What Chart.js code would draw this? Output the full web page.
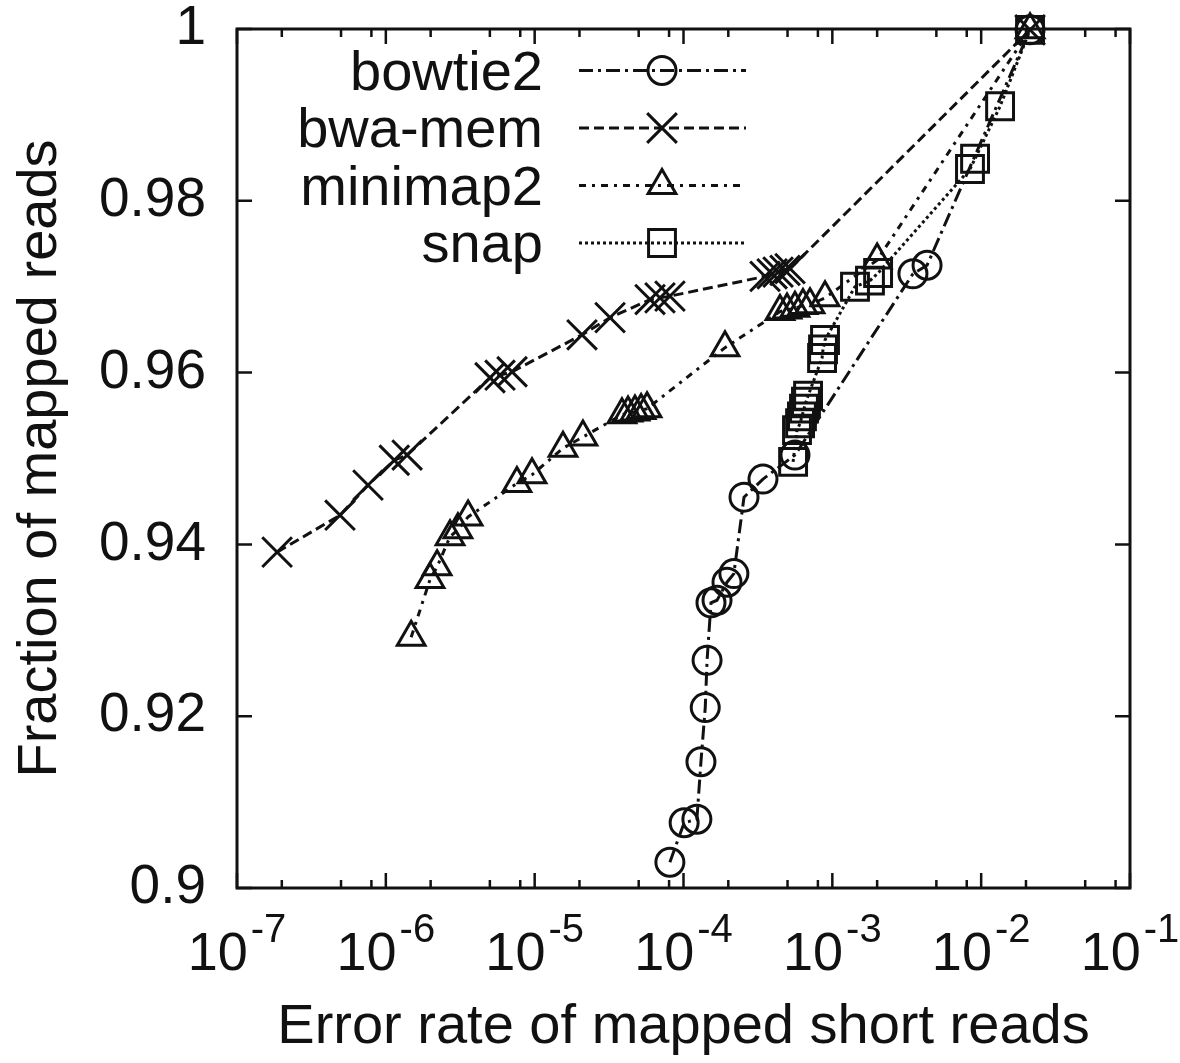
<!DOCTYPE html>
<html>
<head>
<meta charset="utf-8">
<script src="https://cdn.jsdelivr.net/npm/chart.js@4.4.1/dist/chart.umd.min.js"></script>
<style>
  html, body { margin: 0; padding: 0; background: #fff; }
  #wrap { width: 1180px; height: 1063px; }
</style>
</head>
<body>
<div id="wrap"><canvas id="chart" width="1180" height="1063"></canvas></div>
<script>
const INK = '#111';
const FONT = '"Liberation Sans", Arial, Helvetica, sans-serif';

// series values (x = error rate, y = fraction mapped)
const bowtie2X = [8.1e-5, 1.01e-4, 1.23e-4, 1.31e-4, 1.40e-4, 1.44e-4, 1.53e-4, 1.68e-4, 1.96e-4, 2.18e-4, 2.55e-4, 3.42e-4, 5.61e-4, 3.48e-3, 4.33e-3, 2.13e-2];
const bowtie2Y = [0.9030, 0.9076, 0.9080, 0.9147, 0.9210, 0.9265, 0.9332, 0.9335, 0.9356, 0.9366, 0.9455, 0.9476, 0.9504, 0.9715, 0.9725, 0.9999];

const bwamemX = [1.86e-7, 4.92e-7, 7.59e-7, 1.14e-6, 1.39e-6, 5.01e-6, 5.85e-6, 7.05e-6, 2.08e-5, 3.21e-5, 5.96e-5, 6.95e-5, 8.11e-5, 3.53e-4, 3.94e-4, 4.32e-4, 4.81e-4, 5.2e-4, 2.13e-2];
const bwamemY = [0.9391, 0.9434, 0.9469, 0.9498, 0.9504, 0.9594, 0.9597, 0.9601, 0.9644, 0.9664, 0.9685, 0.9687, 0.9689, 0.9712, 0.9715, 0.9717, 0.9719, 0.9721, 0.9999];

const minimap2X = [1.48e-6, 1.98e-6, 2.21e-6, 2.70e-6, 3.05e-6, 3.57e-6, 7.6e-6, 9.6e-6, 1.55e-5, 2.11e-5, 3.86e-5, 4.24e-5, 4.72e-5, 5.19e-5, 5.69e-5, 1.9e-4, 4.45e-4, 4.96e-4, 5.61e-4, 6.35e-4, 7.08e-4, 8.93e-4, 2.0e-3, 2.13e-2];
const minimap2Y = [0.9292, 0.9359, 0.9374, 0.9409, 0.9417, 0.9432, 0.9471, 0.9481, 0.9512, 0.9525, 0.9551, 0.9553, 0.9554, 0.9556, 0.9558, 0.9629, 0.9671, 0.9673, 0.9675, 0.9678, 0.9679, 0.9687, 0.9731, 0.9999];

const snapX = [5.45e-4, 5.79e-4, 6.07e-4, 6.25e-4, 6.45e-4, 6.65e-4, 6.87e-4, 8.53e-4, 8.66e-4, 8.93e-4, 1.42e-3, 1.79e-3, 2.03e-3, 8.41e-3, 9.1e-3, 1.34e-2, 2.13e-2];
const snapY = [0.9496, 0.9533, 0.9541, 0.9549, 0.9558, 0.9566, 0.9573, 0.9617, 0.9627, 0.9638, 0.9700, 0.9707, 0.9716, 0.9837, 0.9849, 0.9910, 0.9999];

// axis ticks
const xTickValues = [1e-7, 1e-6, 1e-5, 1e-4, 1e-3, 1e-2, 1e-1];
const xTickExponents = ['-7', '-6', '-5', '-4', '-3', '-2', '-1'];
const xMinorFactors = [2, 5, 8];
const yTickValues = [0.9, 0.92, 0.94, 0.96, 0.98, 1];

const pts = (xs, ys) => xs.map((x, i) => ({ x: x, y: ys[i] }));

function series(label, xs, ys, dash, style, radius) {
  return {
    label: label,
    data: pts(xs, ys),
    borderColor: INK,
    borderWidth: 3,
    borderDash: dash,
    pointStyle: style,
    pointRadius: radius,
    pointHoverRadius: radius,
    pointBorderWidth: 3,
    pointBorderColor: INK,
    pointBackgroundColor: 'rgba(0,0,0,0)',
    fill: false,
    tension: 0,
    clip: false
  };
}

// frame with inward ticks, plus 10^n labels under the x axis
const frame = {
  id: 'frame',
  beforeDatasetsDraw(chart) {
    const { ctx, chartArea: a, scales: { x, y } } = chart;
    ctx.save();
    ctx.strokeStyle = INK;
    ctx.lineWidth = 3;
    ctx.strokeRect(a.left, a.top, a.right - a.left, a.bottom - a.top);
    ctx.lineWidth = 2.5;
    ctx.beginPath();
    xTickValues.forEach(v => {
      const px = x.getPixelForValue(v);
      ctx.moveTo(px, a.bottom); ctx.lineTo(px, a.bottom - 15);
      ctx.moveTo(px, a.top); ctx.lineTo(px, a.top + 15);
    });
    xTickValues.slice(0, -1).forEach(v => {
      xMinorFactors.forEach(f => {
        const px = x.getPixelForValue(v * f);
        ctx.moveTo(px, a.bottom); ctx.lineTo(px, a.bottom - 8);
        ctx.moveTo(px, a.top); ctx.lineTo(px, a.top + 8);
      });
    });
    yTickValues.forEach(v => {
      const py = y.getPixelForValue(v);
      ctx.moveTo(a.left, py); ctx.lineTo(a.left + 15, py);
      ctx.moveTo(a.right, py); ctx.lineTo(a.right - 15, py);
    });
    ctx.stroke();

    ctx.fillStyle = INK;
    ctx.textBaseline = 'alphabetic';
    ctx.textAlign = 'left';
    xTickValues.forEach((v, i) => {
      const px = x.getPixelForValue(v);
      ctx.font = '54px ' + FONT;
      const wBase = ctx.measureText('10').width;
      ctx.font = '40px ' + FONT;
      const wExp = ctx.measureText(xTickExponents[i]).width;
      const left = px - (wBase + 3 + wExp) / 2;
      ctx.font = '54px ' + FONT;
      ctx.fillText('10', left, a.bottom + 82);
      ctx.font = '40px ' + FONT;
      ctx.fillText(xTickExponents[i], left + wBase + 3, a.bottom + 54);
    });
    ctx.restore();
  }
};

function marker(ctx, style, r, cx, cy) {
  ctx.beginPath();
  if (style === 'circle') {
    ctx.arc(cx, cy, r, 0, Math.PI * 2);
  } else if (style === 'crossRot') {
    const o = Math.cos(Math.PI / 4) * r;
    ctx.moveTo(cx - o, cy - o); ctx.lineTo(cx + o, cy + o);
    ctx.moveTo(cx + o, cy - o); ctx.lineTo(cx - o, cy + o);
  } else if (style === 'triangle') {
    ctx.moveTo(cx, cy - r);
    ctx.lineTo(cx + 0.866 * r, cy + 0.5 * r);
    ctx.lineTo(cx - 0.866 * r, cy + 0.5 * r);
    ctx.closePath();
  } else {
    const s = Math.SQRT1_2 * r;
    ctx.rect(cx - s, cy - s, 2 * s, 2 * s);
  }
  ctx.stroke();
}

// key in the upper left corner: right-aligned names, line sample with marker
const key = {
  id: 'key',
  afterDatasetsDraw(chart) {
    const ctx = chart.ctx;
    chart.data.datasets.forEach((ds, i) => {
      const yy = 70.5 + i * 57.5;
      ctx.save();
      ctx.fillStyle = INK;
      ctx.font = '56px ' + FONT;
      ctx.textAlign = 'right';
      ctx.textBaseline = 'alphabetic';
      ctx.fillText(ds.label, 543, yy + 19);
      ctx.strokeStyle = INK;
      ctx.lineWidth = 3;
      ctx.setLineDash(ds.borderDash);
      ctx.beginPath();
      ctx.moveTo(579, yy); ctx.lineTo(746, yy);
      ctx.stroke();
      ctx.setLineDash([]);
      marker(ctx, ds.pointStyle, ds.pointRadius, 662, yy);
      ctx.restore();
    });
  }
};

new Chart(document.getElementById('chart'), {
  type: 'line',
  data: {
    datasets: [
      series('bowtie2', bowtie2X, bowtie2Y, [14, 5, 3, 5], 'circle', 14),
      series('bwa-mem', bwamemX, bwamemY, [10, 5], 'crossRot', 21),
      series('minimap2', minimap2X, minimap2Y, [7, 6, 3, 6], 'triangle', 16),
      series('snap', snapX, snapY, [3, 3], 'rect', 19)
    ]
  },
  options: {
    responsive: false,
    animation: false,
    devicePixelRatio: 1,
    layout: { padding: { left: 0, right: 50, top: 29, bottom: 0 } },
    plugins: { legend: { display: false }, tooltip: { enabled: false } },
    scales: {
      x: {
        type: 'logarithmic',
        min: 1e-7,
        max: 1e-1,
        grid: { display: false },
        border: { display: false },
        ticks: { display: false },
        title: {
          display: true,
          text: 'Error rate of mapped short reads',
          color: INK,
          font: { family: FONT, size: 56 },
          padding: { top: 0, bottom: 2 }
        },
        afterFit(s) { s.height = 175; s.paddingLeft = 0; s.paddingRight = 0; }
      },
      y: {
        type: 'linear',
        min: 0.9,
        max: 1,
        grid: { display: false },
        border: { display: false },
        afterBuildTicks(s) { s.ticks = yTickValues.map(v => ({ value: v })); },
        ticks: {
          padding: 23,
          color: INK,
          font: { family: FONT, size: 55, lineHeight: 1 },
          callback: v => String(+v.toFixed(2))
        },
        title: {
          display: true,
          text: 'Fraction of mapped reads',
          color: INK,
          font: { family: FONT, size: 56 },
          padding: { top: 7, bottom: 0 }
        },
        afterFit(s) { s.width = 237; s.paddingTop = 0; s.paddingBottom = 0; }
      }
    }
  },
  plugins: [frame, key]
});
</script>
</body>
</html>
